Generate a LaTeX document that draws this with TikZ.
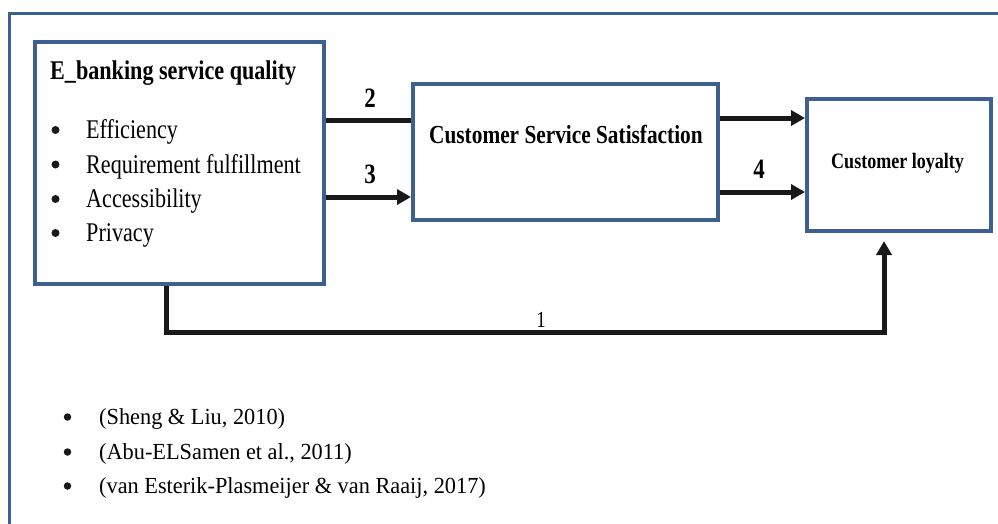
\documentclass[tikz,border=0pt]{standalone}
\usepackage{fontspec}
\setmainfont{Liberation Serif}[FakeStretch=0.82]
\newfontfamily\citefont{Liberation Serif}[FakeStretch=0.97]
\usetikzlibrary{arrows.meta}
\definecolor{frameblue}{RGB}{62,96,145}
\tikzset{
  box/.style={draw=frameblue, line width=4pt, fill=white, inner sep=0pt},
  conn/.style={draw=black!90, line width=5pt},
  arr/.style={conn, -{Triangle[length=14pt,width=15pt]}},
  txt/.style={anchor=base west, inner sep=0pt, font=\fontsize{27}{32}\selectfont},
  cite/.style={anchor=base west, inner sep=0pt, font=\citefont\fontsize{23}{28}\selectfont},
  lbl/.style={anchor=base, inner sep=0pt, font=\bfseries\fontsize{28}{32}\selectfont},
  dot/.style={circle, fill=black!90, inner sep=0pt, minimum size=8pt}
}
\begin{document}
\begin{tikzpicture}[x=1pt,y=-1pt]
\useasboundingbox (0,0) rectangle (998,523);
\clip (0,0) rectangle (998,523);
% outer frame
\draw[draw=frameblue, line width=3pt] (9.5,540) -- (9.5,13.5) -- (1010,13.5);
% boxes
\node[box, minimum width=289pt, minimum height=242pt] (b1) at (179.5,163) {};
\node[box, minimum width=305pt, minimum height=136pt] (b2) at (565.5,152) {};
\node[box, minimum width=184pt, minimum height=132pt] (b3) at (899,165) {};
% box 1 text
\node[txt, font=\bfseries\fontsize{27}{32}\selectfont] (t0) at (50,79) {E\_banking service quality};
\node[dot] (u1) at (55.5,130) {};
\node[dot] (u2) at (55.5,164.5) {};
\node[dot] (u3) at (55.5,199) {};
\node[dot] (u4) at (55.5,233) {};
\node[txt] (i1) at (86,138) {Efficiency};
\node[txt] (i2) at (86,173) {Requirement fulfillment};
\node[txt] (i3) at (86,207) {Accessibility};
\node[txt] (i4) at (86,241) {Privacy};
% box 2 and 3 text
\node[txt, font=\bfseries\fontsize{26}{30}\selectfont] (t2) at (429,143) {Customer Service Satisfaction};
\node[txt, font=\bfseries\fontsize{22}{26}\selectfont] (t3) at (831,168) {Customer loyalty};
% connectors
\coordinate (y2) at (0,120);
\coordinate (y3) at (0,197);
\coordinate (y4) at (0,118);
\coordinate (y5) at (0,192);
\draw[conn] (b1.east |- y2) -- (b2.west |- y2);
\draw[arr] (b1.east |- y3) -- (b2.west |- y3);
\draw[arr] (b2.east |- y4) -- (b3.west |- y4);
\draw[arr] (b2.east |- y5) -- (b3.west |- y5);
\coordinate (c1) at (166,332);
\coordinate (t1) at (884,241);
\draw[arr] (b1.south -| c1) -- (c1) -| (t1);
% labels
\node[lbl] (l2) at (370,107) {2};
\node[lbl] (l3) at (370,183) {3};
\node[lbl] (l4) at (759,178) {4};
\node[lbl, font=\fontsize{23}{27}\selectfont] (l1) at (541,327) {1};
% citations
\node[dot, minimum size=7.5pt] (d1) at (67.5,417) {};
\node[dot, minimum size=7.5pt] (d2) at (67.5,452) {};
\node[dot, minimum size=7.5pt] (d3) at (67.5,486) {};
\node[cite] (c1t) at (99,424) {(Sheng \& Liu, 2010)};
\node[cite] (c2t) at (99,459) {(Abu-ELSamen et al., 2011)};
\node[cite] (c3t) at (99,493) {(van Esterik-Plasmeijer \& van Raaij, 2017)};
\end{tikzpicture}
\end{document}
